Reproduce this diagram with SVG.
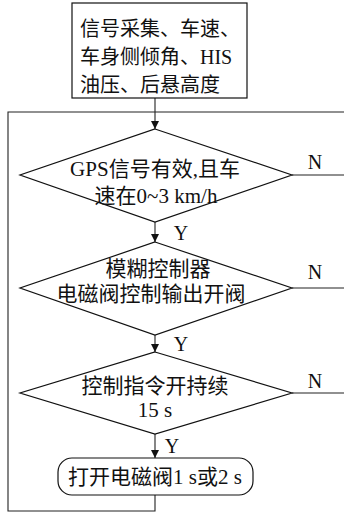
<svg xmlns="http://www.w3.org/2000/svg" width="344" height="514" viewBox="0 0 344 514">
<style>
.s{fill:#fff;stroke:#111;stroke-width:1.2}
.c{fill:none;stroke:#222;stroke-width:1.1}
.t{font-family:"Liberation Serif","Noto Sans CJK SC",serif;font-size:21px;fill:#111}
.tb{font-family:"Liberation Serif","Noto Sans CJK SC",serif;font-size:20px;fill:#111}
.l{font-family:"Liberation Serif",serif;font-size:20px;fill:#111}
</style>
<defs>
<marker id="ah" viewBox="0 0 10 10" refX="10" refY="5" markerWidth="8" markerHeight="9" markerUnits="userSpaceOnUse" orient="auto">
<path d="M0,0 L10,5 L0,10 Z" fill="#111"/>
</marker>
</defs>
<rect width="344" height="514" fill="#fff"/>
<g id="connectors">
<line class="c" x1="155" y1="98" x2="155" y2="129" marker-end="url(#ah)"/>
<line class="c" x1="155" y1="222" x2="155" y2="242" marker-end="url(#ah)"/>
<line class="c" x1="155" y1="335" x2="155" y2="352" marker-end="url(#ah)"/>
<line class="c" x1="155" y1="434" x2="155" y2="458" marker-end="url(#ah)"/>
<polyline class="c" points="155,495 155,511 8,511 8,112 344,112"/>
<line class="c" x1="292" y1="175" x2="344" y2="175"/>
<line class="c" x1="292" y1="288" x2="344" y2="288"/>
<line class="c" x1="292" y1="393" x2="344" y2="393"/>
<text class="l" x="181" y="240" text-anchor="middle">Y</text>
<text class="l" x="181" y="351" text-anchor="middle">Y</text>
<text class="l" x="172" y="453" text-anchor="middle">Y</text>
<text class="l" x="315" y="169" text-anchor="middle">N</text>
<text class="l" x="315" y="279" text-anchor="middle">N</text>
<text class="l" x="315" y="388" text-anchor="middle">N</text>
</g>
<g id="start">
<rect class="s" x="72" y="3" width="175" height="95"/>
<text class="tb" x="80" y="36">信号采集、车速、</text>
<text class="tb" x="80" y="64">车身侧倾角、HIS</text>
<text class="tb" x="80" y="92">油压、后悬高度</text>
</g>
<g id="d1">
<polygon class="s" points="155,129 292,175 155,222 20,175"/>
<text class="t" x="155" y="176" text-anchor="middle">GPS信号有效,且车</text>
<text class="t" x="156" y="203" text-anchor="middle">速在0~3 km/h</text>
</g>
<g id="d2">
<polygon class="s" points="155,242 292,288 155,335 20,288"/>
<text class="t" x="158" y="276" text-anchor="middle">模糊控制器</text>
<text class="t" x="151" y="301" text-anchor="middle">电磁阀控制输出开阀</text>
</g>
<g id="d3">
<polygon class="s" points="155,352 292,393 155,434 20,393"/>
<text class="t" x="155" y="393" text-anchor="middle">控制指令开持续</text>
<text class="t" x="155" y="417" text-anchor="middle">15 s</text>
</g>
<g id="end">
<rect class="s" x="58" y="458" width="195" height="37" rx="14" ry="14"/>
<text class="t" x="155" y="484" text-anchor="middle">打开电磁阀1 s或2 s</text>
</g>
</svg>
